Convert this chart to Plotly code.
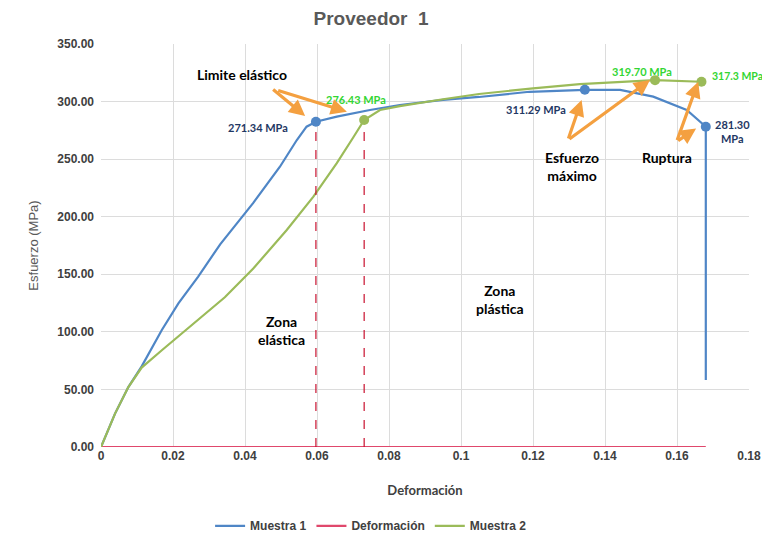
import plotly.graph_objects as go

# ---- data ----
m1_x = [0, 0.0039, 0.0076, 0.0113, 0.0169, 0.0215, 0.027, 0.0331, 0.0423, 0.0497, 0.0544,
        0.0571, 0.0597, 0.0655, 0.0747, 0.083, 0.095, 0.105, 0.119, 0.1344, 0.1442,
        0.1534, 0.1627, 0.168, 0.168]
m1_y = [0, 29, 52, 70, 101.6, 124.8, 148, 176, 212, 243.4, 266.6,
        278.2, 282.5, 286.9, 292.7, 297, 301.5, 304, 308.5, 310.2, 310.1,
        304.3, 292.7, 278.2, 58.2]

m2_x = [0, 0.0039, 0.0076, 0.0113, 0.0169, 0.0261, 0.0344, 0.0423, 0.0516, 0.059, 0.0655,
        0.0701, 0.0731, 0.0775, 0.083, 0.095, 0.105, 0.12, 0.133, 0.1539, 0.1668]
m2_y = [0, 29, 52, 69, 84, 108, 130, 155, 188.5, 217.4, 246.6,
        269, 284, 292.7, 296, 302, 306.6, 311.5, 315.2, 318.6, 317.2]

def_x = [0, 0.168]
def_y = [0, 0]

# key points
m1_pts_x = [0.0597, 0.1344, 0.168]
m1_pts_y = [282.5, 310.2, 278.2]
m2_pts_x = [0.0731, 0.1539, 0.1668]
m2_pts_y = [284, 318.6, 317.2]

yield_x = [0.0597, 0.0731]
yield_y = [282.5, 284]

x_ticks = [0, 0.02, 0.04, 0.06, 0.08, 0.1, 0.12, 0.14, 0.16, 0.18]
x_ticktext = ["0", "0.02", "0.04", "0.06", "0.08", "0.1", "0.12", "0.14", "0.16", "0.18"]
y_ticks = [0, 50, 100, 150, 200, 250, 300, 350]

BLUE = "#4F86C6"
GREEN = "#9BBB59"
RED = "#E0486C"
NAVY = "#1F3864"
LGREEN = "#33D633"
ORANGE = "#F4A040"

fig = go.Figure()

fig.add_trace(go.Scatter(x=m1_x, y=m1_y, mode="lines", name="Muestra 1",
                         line=dict(color=BLUE, width=2.2)))
fig.add_trace(go.Scatter(x=def_x, y=def_y, mode="lines", name="Deformación",
                         line=dict(color=RED, width=2.2)))
fig.add_trace(go.Scatter(x=m2_x, y=m2_y, mode="lines", name="Muestra 2",
                         line=dict(color=GREEN, width=2.2)))

for xv, yv in zip(yield_x, yield_y):
    fig.add_trace(go.Scatter(x=[xv, xv], y=[0, yv], mode="lines", showlegend=False,
                             line=dict(color="#C8102E", width=1.2, dash="dash")))

fig.add_trace(go.Scatter(x=m1_pts_x, y=m1_pts_y, mode="markers", showlegend=False,
                         marker=dict(color=BLUE, size=10)))
fig.add_trace(go.Scatter(x=m2_pts_x, y=m2_pts_y, mode="markers", showlegend=False,
                         marker=dict(color=GREEN, size=10)))

ann = []
def txt(x, y, t, color="black", size=14, xanchor="center"):
    ann.append(dict(x=x, y=y, xref="x", yref="y", text=t, showarrow=False,
                    xanchor=xanchor, yanchor="middle",
                    font=dict(family="Lato, Open Sans, sans-serif", size=size, color=color,
                              weight="bold")))

def arrow(tx, ty, hx, hy):
    ann.append(dict(x=hx, y=hy, ax=tx, ay=ty, xref="x", yref="y", axref="x", ayref="y",
                    text="", showarrow=True, arrowhead=2, arrowsize=1.0, arrowwidth=3.2,
                    arrowcolor=ORANGE))

txt(0.0392, 323.8, "Limite elástico")
txt(0.1308, 244.0, "Esfuerzo<br>máximo")
txt(0.1572, 251.0, "Ruptura")
txt(0.050, 101.6, "Zona<br>elástica")
txt(0.1108, 127.7, "Zona<br>plástica")

txt(0.0436, 277.9, "271.34 MPa", NAVY, 11)
txt(0.0708, 301.4, "276.43 MPa", LGREEN, 11)
txt(0.1208, 292.7, "311.29 MPa", NAVY, 11)
txt(0.1503, 325.7, "319.70 MPa", LGREEN, 11)
txt(0.1692, 322.2, "317.3 MPa", LGREEN, 10.5, "left")
txt(0.1700, 273.6, "281.30<br>MPa", NAVY, 11, "left")

arrow(0.0474, 311.5, 0.0567, 287.5)
arrow(0.0488, 310.1, 0.0683, 291.2)
arrow(0.1297, 266.6, 0.1335, 301.4)
arrow(0.1297, 266.6, 0.1525, 318.7)
arrow(0.1599, 265.2, 0.1659, 317.3)
arrow(0.1599, 265.2, 0.1653, 276.6)

tickfont = dict(family="Liberation Sans Narrow, Liberation Sans, sans-serif", size=12,
                color="#404040", weight="bold")

fig.update_layout(
    width=762, height=546,
    margin=dict(l=101, r=13, t=44, b=99),
    paper_bgcolor="white", plot_bgcolor="white",
    title=dict(text="Proveedor\u00a0\u00a01", x=0.487, xanchor="center", y=0.967, yanchor="middle",
               font=dict(family="Liberation Sans, Arial, sans-serif", size=19, color="#595959",
                         weight="bold")),
    xaxis=dict(range=[0, 0.18], tickvals=x_ticks, ticktext=x_ticktext, automargin=False,
               showgrid=True, gridcolor="#DCDCDC", gridwidth=1, zeroline=False,
               showline=False, ticks="", tickfont=tickfont,
               title=dict(text="Deformación", standoff=23,
                          font=dict(family="Lato, Open Sans, sans-serif", size=13, color="#404040",
                                    weight="bold"))),
    yaxis=dict(range=[0, 350], tickvals=y_ticks, tickformat=".2f", automargin=False,
               showgrid=True, gridcolor="#DCDCDC", gridwidth=1, zeroline=False,
               showline=False, ticks="", ticklabelstandoff=6, tickfont=tickfont,
               title=dict(text="Esfuerzo (MPa)", standoff=15,
                          font=dict(family="Liberation Sans, Arial, sans-serif", size=13, color="#595959"))),
    legend=dict(orientation="h", xref="container", yref="container",
                x=0.487, xanchor="center", y=0.037, yanchor="middle",
                font=dict(family="Liberation Sans Narrow, Liberation Sans, sans-serif", size=12,
                          color="#404040", weight="bold")),
    annotations=ann,
)

# remove the default 8px page margin so the figure fills the 762x546 window exactly
fig.write_html("out.html", config={"displayModeBar": False},
               post_script="document.body.style.margin='0px';document.body.style.overflow='hidden';")
